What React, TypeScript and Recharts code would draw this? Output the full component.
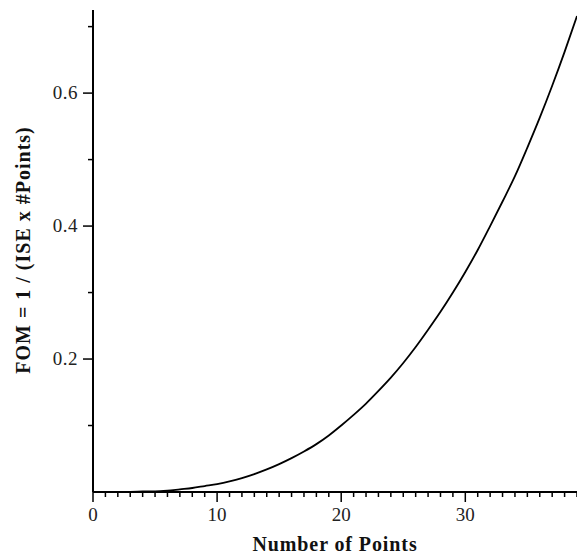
import { LineChart, Line, XAxis, YAxis } from "recharts"

// values
const numPoints = [
  3, 4, 5, 6, 7, 8, 9, 10, 11, 12, 13, 14, 15, 16, 17, 18, 19, 20, 21,
  22, 23, 24, 25, 26, 27, 28, 29, 30, 31, 32, 33, 34, 35, 36, 37, 38, 39,
]
const fomValues = [
  0.0, 0.001, 0.001, 0.002, 0.004, 0.006, 0.009, 0.012, 0.016, 0.021, 0.027,
  0.034, 0.042, 0.051, 0.061, 0.072, 0.085, 0.1, 0.116, 0.133, 0.152, 0.172,
  0.194, 0.218, 0.244, 0.271, 0.3, 0.331, 0.364, 0.4, 0.437, 0.475, 0.518,
  0.563, 0.611, 0.662, 0.716,
]

const xTicks = [
  0, 1, 2, 3, 4, 5, 6, 7, 8, 9, 10, 11, 12, 13, 14, 15, 16, 17, 18, 19, 20,
  21, 22, 23, 24, 25, 26, 27, 28, 29, 30, 31, 32, 33, 34, 35, 36, 37, 38, 39,
]
const xMajorTicks = [0, 10, 20, 30]
const yTicks = [0.1, 0.2, 0.3, 0.4, 0.5, 0.6, 0.7]
const yMajorTicks = [0.2, 0.4, 0.6]

const xTitle = "Number of Points"
const yTitle = "FOM = 1 / (ISE x #Points)"

const data = numPoints.map((n, i) => ({ n, fom: fomValues[i] }))

const serif = '"Liberation Serif", "Times New Roman", serif'

const isMajor = (list: number[], v: number) => list.some((m) => Math.abs(m - v) < 1e-9)

function XTick(props: any) {
  const { x, y, payload } = props
  const major = isMajor(xMajorTicks, payload.value)
  return (
    <g>
      <line x1={x} y1={y} x2={x} y2={y + (major ? 10 : 5)} stroke="#000" strokeWidth={1.5} />
      {major && (
        <text x={x} y={y + 29} textAnchor="middle" fontFamily={serif} fontSize={19} fill="#222">
          {payload.value}
        </text>
      )}
    </g>
  )
}

function YTick(props: any) {
  const { x, y, payload } = props
  const major = isMajor(yMajorTicks, payload.value)
  return (
    <g>
      <line x1={x - (major ? 10 : 5)} y1={y} x2={x} y2={y} stroke="#000" strokeWidth={1.5} />
      {major && (
        <text x={x - 15} y={y + 6} textAnchor="end" fontFamily={serif} fontSize={19} letterSpacing={0.5} fill="#222">
          {payload.value.toFixed(1)}
        </text>
      )}
    </g>
  )
}

export default function App() {
  return (
    <div style={{ position: "absolute", left: 0, top: 0, background: "#fff" }}>
      <LineChart
        width={577}
        height={554}
        data={data}
        margin={{ top: 10, right: 0, bottom: 0, left: 0 }}
      >
        <XAxis
          dataKey="n"
          type="number"
          domain={[0, 39]}
          ticks={xTicks}
          interval={0}
          allowDataOverflow
          height={62}
          axisLine={{ stroke: "#000", strokeWidth: 2 }}
          tickLine={false}
          tickSize={0}
          tickMargin={0}
          tick={<XTick />}
          label={{
            content: () => (
              <text x={335} y={551} textAnchor="middle" fontFamily={serif} fontSize={20} letterSpacing={0.9} fontWeight="bold" fill="#111">
                {xTitle}
              </text>
            ),
          }}
        />
        <YAxis
          type="number"
          domain={[0, 0.725]}
          ticks={yTicks}
          interval={0}
          allowDataOverflow
          width={93}
          axisLine={{ stroke: "#000", strokeWidth: 2 }}
          tickLine={false}
          tickSize={0}
          tickMargin={0}
          tick={<YTick />}
          label={{
            content: () => (
              <text
                x={30}
                y={250}
                textAnchor="middle"
                transform="rotate(-90 30 250)"
                fontFamily={serif}
                fontSize={20}
                letterSpacing={1}
                fontWeight="bold"
                fill="#111"
              >
                {yTitle}
              </text>
            ),
          }}
        />
        <Line
          type="monotone"
          dataKey="fom"
          stroke="#000"
          strokeWidth={1.8}
          dot={false}
          isAnimationActive={false}
        />
      </LineChart>
    </div>
  )
}
